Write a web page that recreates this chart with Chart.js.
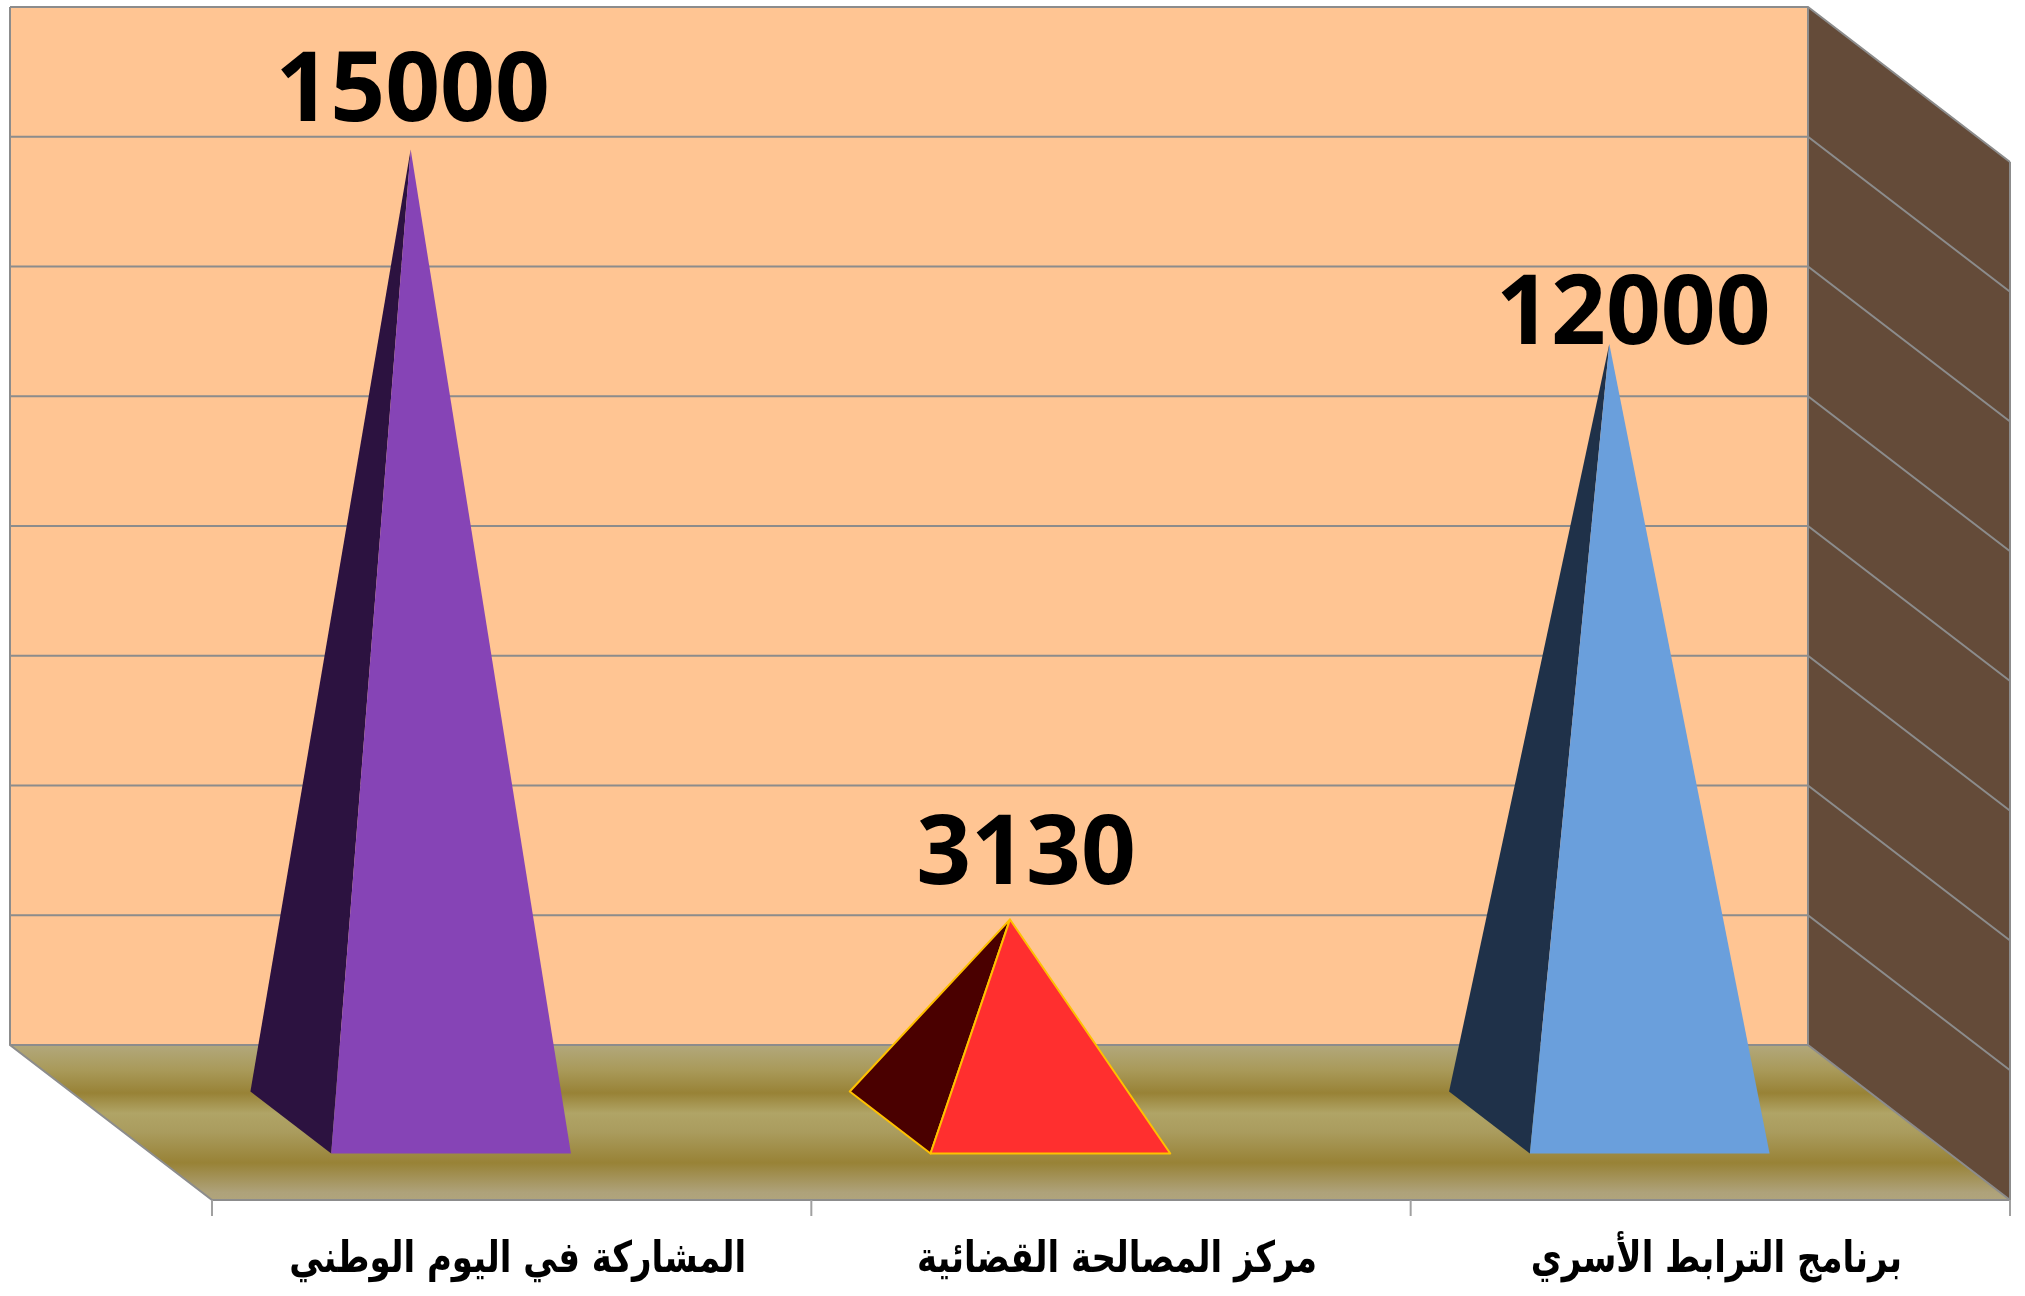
<!DOCTYPE html>
<html>
<head>
<meta charset="utf-8">
<script src="https://cdn.jsdelivr.net/npm/chart.js@4.4.1/dist/chart.umd.min.js"></script>
<style>
html,body{margin:0;padding:0;background:#fff;}
#wrap{width:2025px;height:1296px;}
</style>
</head>
<body>
<div id="wrap"><canvas id="c" width="2025" height="1296"></canvas></div>
<script>
// ---- data ----
const categories = ['المشاركة في اليوم الوطني', 'مركز المصالحة القضائية', 'برنامج الترابط الأسري'];
const values = [15000, 3130, 12000];
const valueLabels = ['15000', '3130', '12000'];
const yMin = 0, yMax = 16000, yStep = 2000;

// ---- style ----
const DX = 202, DY = 155;                 // depth projection of the 3D box
const frontColors = ['#8644b6', '#ff2f2f', '#6a9fdc'];
const sideColors  = ['#2c1240', '#4a0000', '#1f3149'];
const edgeColors  = [null, '#ffc000', null];
const labelOffsets = [[2, -28], [16, -35], [24, 0]];   // data-label placement relative to apex
const gridColor = '#8c8c8c';

const box3d = {
  id: 'box3d',
  beforeDatasetsDraw(chart) {
    const ctx = chart.ctx, a = chart.chartArea, ys = chart.scales.y;
    const L = a.left, R = a.right, T = a.top, B = a.bottom;
    ctx.save();
    // back wall
    ctx.fillStyle = '#ffc593';
    ctx.fillRect(L, T, R - L, B - T);
    // right side wall
    ctx.fillStyle = '#644b39';
    ctx.beginPath();
    ctx.moveTo(R, T); ctx.lineTo(R + DX, T + DY); ctx.lineTo(R + DX, B + DY); ctx.lineTo(R, B);
    ctx.closePath(); ctx.fill();
    // floor
    const g = ctx.createLinearGradient(0, B, 0, B + DY);
    g.addColorStop(0, '#b2a87c');
    g.addColorStop(0.16, '#a99a5a');
    g.addColorStop(0.31, '#988236');
    g.addColorStop(0.44, '#b0a466');
    g.addColorStop(0.56, '#aa9c5e');
    g.addColorStop(0.76, '#988236');
    g.addColorStop(0.95, '#aea27a');
    g.addColorStop(1, '#b0a47c');
    ctx.fillStyle = g;
    ctx.beginPath();
    ctx.moveTo(L, B); ctx.lineTo(R, B); ctx.lineTo(R + DX, B + DY); ctx.lineTo(L + DX, B + DY);
    ctx.closePath(); ctx.fill();
    // gridlines on back wall and side wall
    ctx.strokeStyle = gridColor; ctx.lineWidth = 2;
    for (let v = yMin; v <= yMax; v += yStep) {
      const y = ys.getPixelForValue(v);
      ctx.beginPath();
      ctx.moveTo(L, y); ctx.lineTo(R, y); ctx.lineTo(R + DX, y + DY);
      ctx.stroke();
    }
    // edges
    ctx.beginPath();
    ctx.moveTo(L, T); ctx.lineTo(L, B); ctx.lineTo(L + DX, B + DY); ctx.lineTo(R + DX, B + DY);
    ctx.lineTo(R + DX, T + DY);
    ctx.moveTo(R, T); ctx.lineTo(R, B);
    ctx.stroke();
    // ticks on front edge
    const xs = chart.scales.x;
    const n = categories.length;
    const cw = (R - L) / n;
    ctx.strokeStyle = '#a0a0a0'; ctx.lineWidth = 2;
    for (let i = 0; i <= n; i++) {
      const x = (i < n ? xs.getPixelForValue(i) - cw / 2 : xs.getPixelForValue(n - 1) + cw / 2) + DX;
      ctx.beginPath(); ctx.moveTo(x, B + DY); ctx.lineTo(x, B + DY + 16); ctx.stroke();
    }
    ctx.restore();
  },
  afterDatasetsDraw(chart) {
    const ctx = chart.ctx, a = chart.chartArea;
    const meta = chart.getDatasetMeta(0);
    ctx.save();
    meta.data.forEach((el, i) => {
      const hw = el.width / 2;
      const cx = el.x, base = el.base;
      const fl = [cx - hw + 0.7 * DX, base + 0.7 * DY];
      const fr = [cx + hw + 0.7 * DX, base + 0.7 * DY];
      const bl = [cx - hw + 0.3 * DX, base + 0.3 * DY];
      const ap = [cx + 0.5 * DX, el.y + 0.5 * DY];
      ctx.lineJoin = 'round';
      // left face
      ctx.beginPath();
      ctx.moveTo(bl[0], bl[1]); ctx.lineTo(fl[0], fl[1]); ctx.lineTo(ap[0], ap[1]); ctx.closePath();
      ctx.fillStyle = sideColors[i]; ctx.fill();
      if (edgeColors[i]) { ctx.strokeStyle = edgeColors[i]; ctx.lineWidth = 2; ctx.stroke(); }
      // front face
      ctx.beginPath();
      ctx.moveTo(fl[0], fl[1]); ctx.lineTo(fr[0], fr[1]); ctx.lineTo(ap[0], ap[1]); ctx.closePath();
      ctx.fillStyle = frontColors[i]; ctx.fill();
      if (edgeColors[i]) { ctx.strokeStyle = edgeColors[i]; ctx.lineWidth = 2; ctx.stroke(); }
      // value label
      ctx.fillStyle = '#000';
      ctx.font = 'bold 96px "Open Sans", sans-serif';
      ctx.textAlign = 'center'; ctx.textBaseline = 'alphabetic';
      ctx.fillText(valueLabels[i], ap[0] + labelOffsets[i][0], ap[1] + labelOffsets[i][1]);
    });
    // category labels on front edge
    const xs = chart.scales.x;
    ctx.fillStyle = '#000';
    ctx.font = 'bold 43px "DejaVu Sans", sans-serif';
    ctx.textAlign = 'center'; ctx.textBaseline = 'alphabetic';
    ctx.direction = 'rtl';
    categories.forEach((c, i) => {
      ctx.save();
      ctx.translate(xs.getPixelForValue(i) + DX + 6, a.bottom + DY + 72);
      ctx.scale(0.79, 1);
      ctx.fillText(c, 0, 0);
      ctx.restore();
    });
    ctx.restore();
  }
};

new Chart(document.getElementById('c'), {
  type: 'bar',
  data: {
    labels: categories,
    datasets: [{
      data: values,
      backgroundColor: 'rgba(0,0,0,0)',
      borderWidth: 0,
      categoryPercentage: 1.0,
      barPercentage: 0.4
    }]
  },
  options: {
    responsive: false,
    animation: false,
    layout: { padding: { left: 10, top: 7, right: 217, bottom: 251 } },
    plugins: { legend: { display: false }, tooltip: { enabled: false } },
    scales: {
      x: { display: false },
      y: { display: false, min: yMin, max: yMax, ticks: { stepSize: yStep } }
    }
  },
  plugins: [box3d]
});
</script>
</body>
</html>
